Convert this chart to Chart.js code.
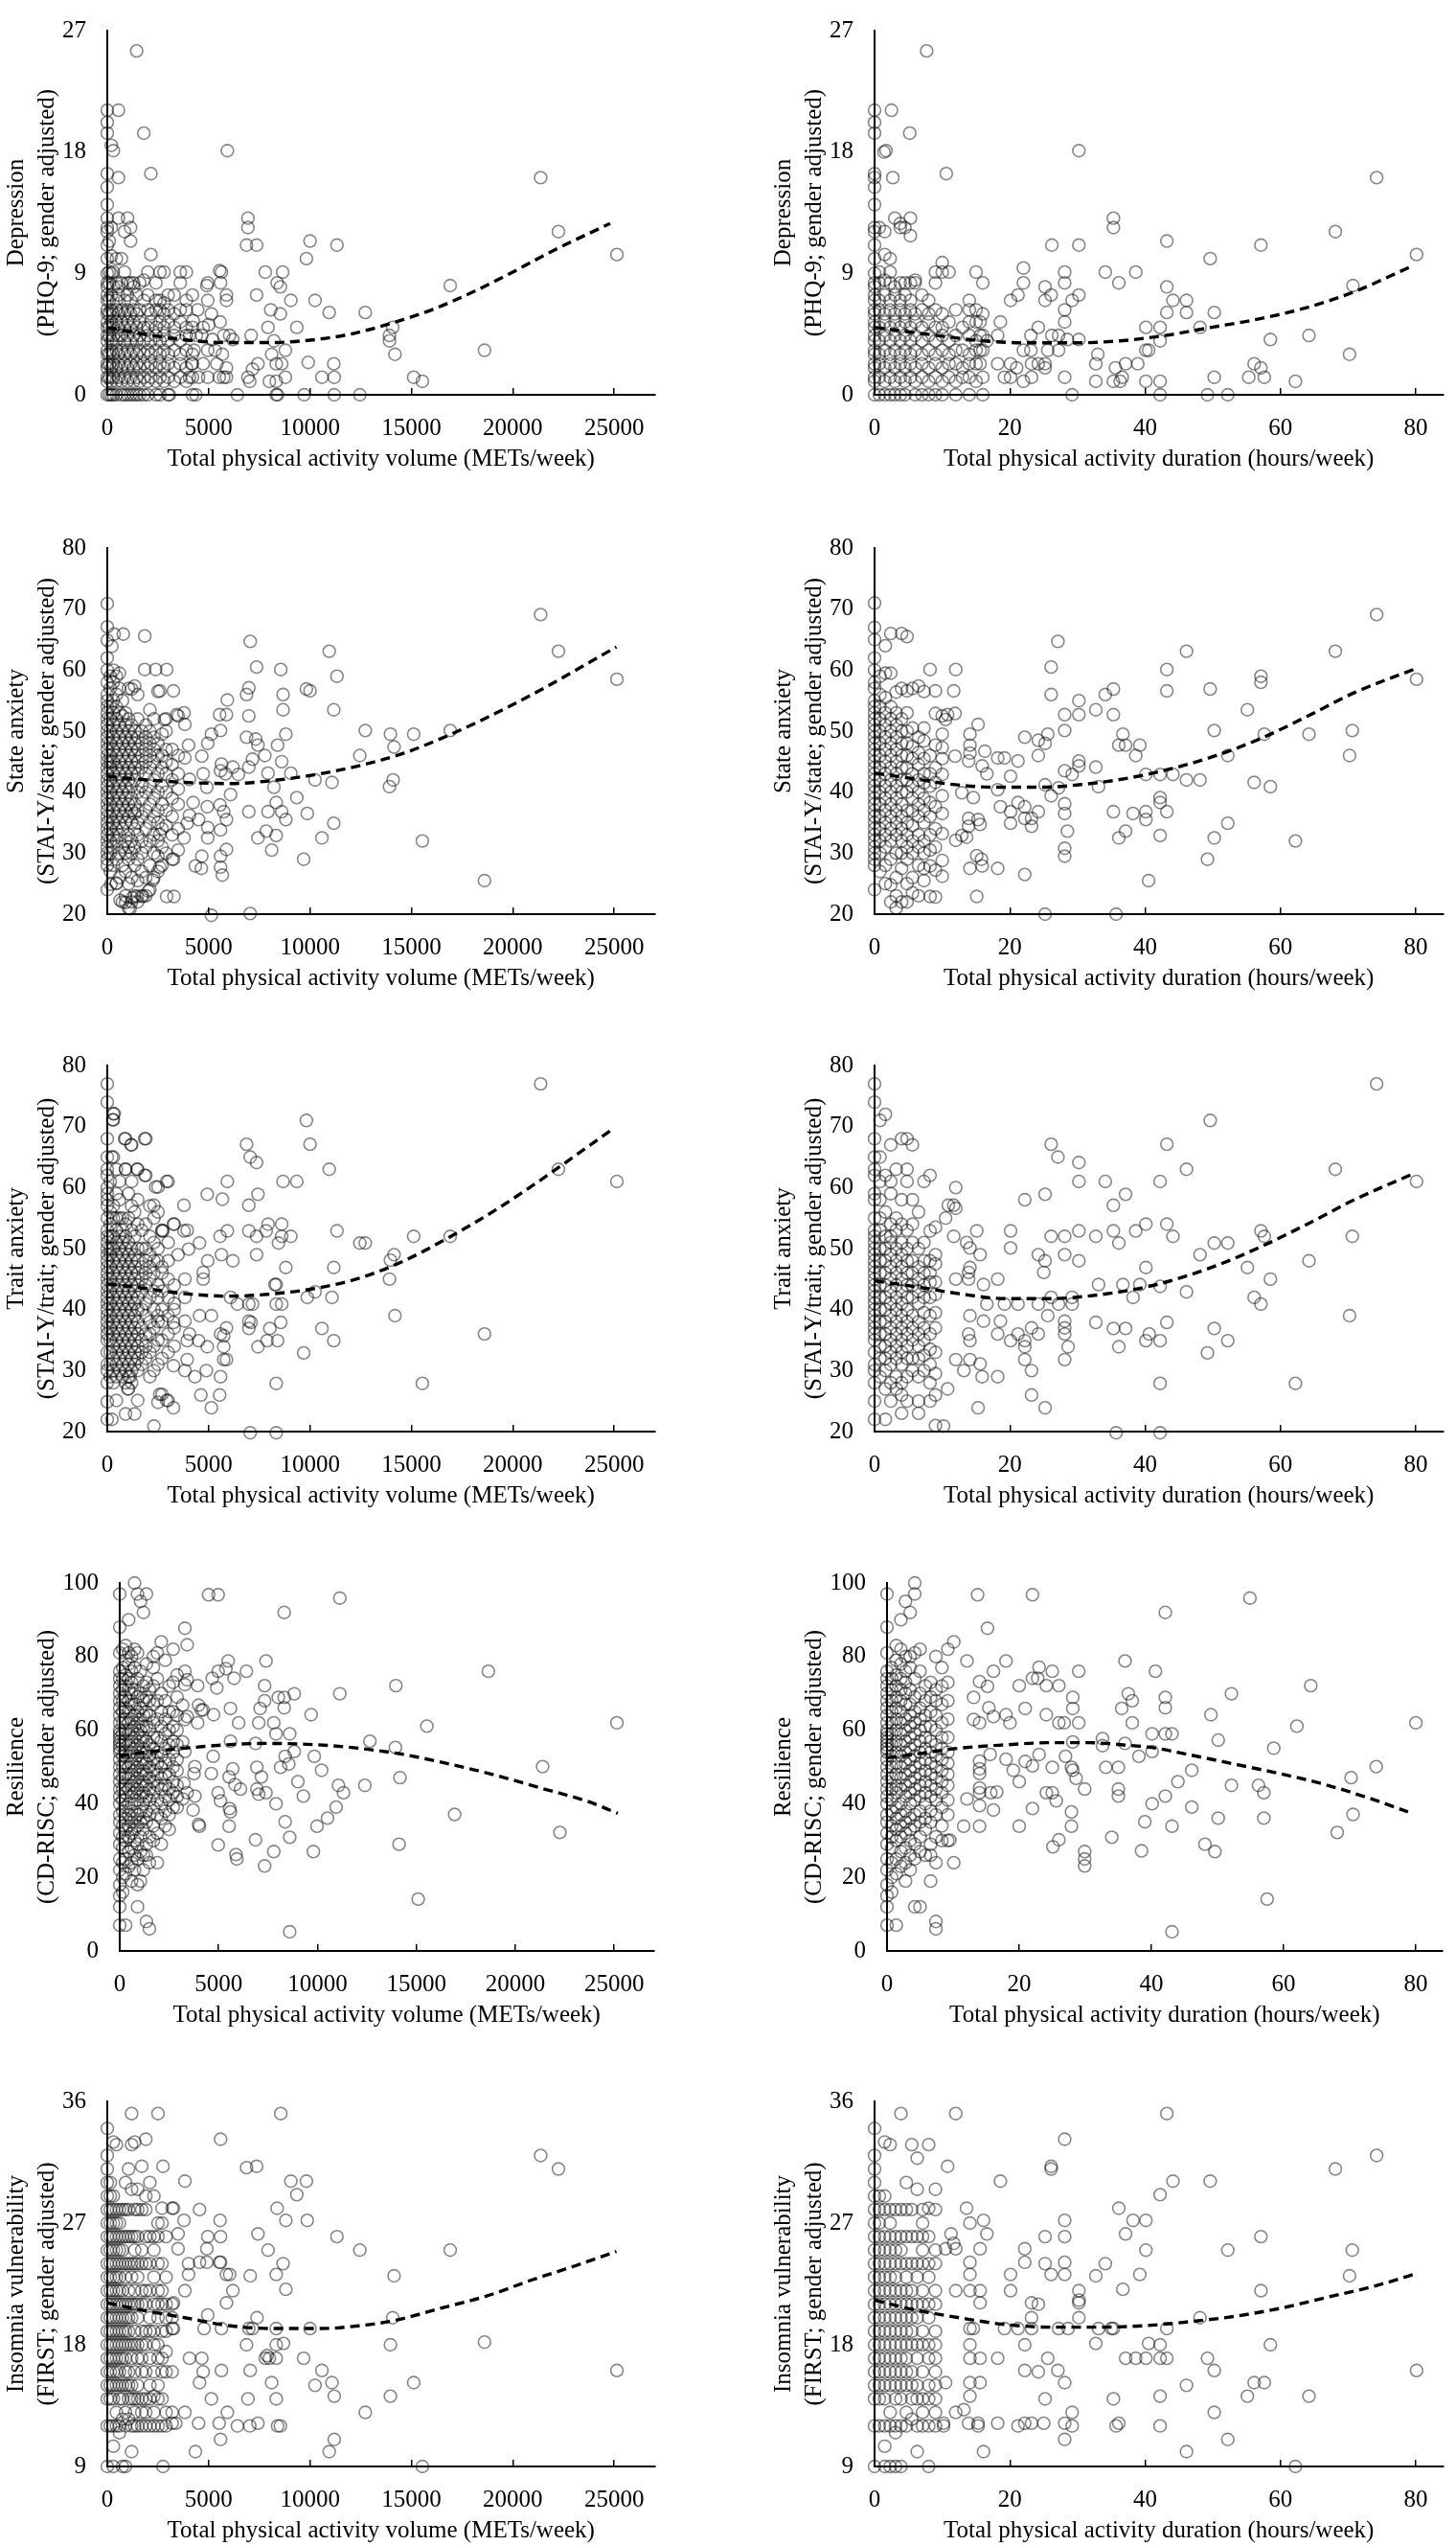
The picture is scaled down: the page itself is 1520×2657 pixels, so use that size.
<!DOCTYPE html>
<html><head><meta charset="utf-8">
<script src="https://cdn.jsdelivr.net/npm/chart.js@4.4.1/dist/chart.umd.min.js"></script>
<style>
html,body{margin:0;padding:0;background:#fff;}
body{width:1520px;height:2657px;overflow:hidden;position:relative;}
canvas{position:absolute;}
</style></head><body>
<script>
// ---- Data: each entry is [x, y1, y2, ...] (one x value, one or more y values) ----
const depressionVolume = [
 [0,0,1,1.3,2,2.3,3,3.3,4,4.4,5,5.4,6,6.3,7,7.4,8,8.3,9,10.1,11.1,12.1,12.4,13.1,14.1,15.4,16.4,19.4,20.2,21.1],
 [100,0,1.3,2.3,3,4.4,5,6,7,8.3,9.1,11.4],[200,0,1,2,3.3,4,5.4,6.3,7.4,9,10.3,12.4,18.5],
 [300,0,1.3,2.3,3,4.4,5,6,8,9.1,18.1],[450,0,1,2,3.3,4,5.4,6.3,7,8.3,10.1],
 [550,1.3,2.3,3,4.4,5,6,7.4,8,13.1,16.1,21.1],[700,0,1,2,3.3,4.4,5.4,6.3,8.3,10.1],
 [850,0,1.3,2.3,3,4,5,6,7,9.1,12.1],[1000,0,1,2,3.3,4.4,5.4,6.3,7.4,8.3,13.1],
 [1150,0,1.3,2.3,3,4,5,6,7,8.3,11.4,12.4],[1300,0,1,2,3.3,4.4,5.4,6.3,8,8.3],
 [1450,0,1.3,2.3,3,4,5,6,7.4,25.5],[1600,0,1,2,3.3,4.4,5.4,6.3,8.3],
 [1800,0,1.3,2.3,3,4,5,7,8.5,19.4],[2000,0,1,2,3.3,4.4,5,6.3,7.4,9.1],
 [2150,1.3,2.3,3,4,5.4,6,10.4,16.4],[2400,0,1,2,3.3,4.4,5,6.3,7,8.3],
 [2600,0,1.3,2.3,3,4,5.4,6.3,7,9.1],[2800,1,2,3.3,4.4,5,6,6.8,9.1],
 [3000,0,1.3,2.3,3,4,5.4,6.3,7.4],[3300,1,2,3.3,4.4,5,6,7.4],
 [3600,1.3,2.3,3,4,5.4,6.3,8.3,9.1],[3900,1,2,3.3,4.4,5,6.3,7,9.1],[4200,0,1.3,2.3,3,5,7.4],
 [5923,18.1],[21374,16.1],[22252,12.1],[25135,10.4],[16914,8.1],[18604,3.3],[6937,13.1,12.4,1.3],
 [6869,11.1],[7365,11.1,7.4],[10000,11.4],[11329,11.1],[9820,10.1],[7793,9.1],[8649,9.1],[8378,8.3],
 [8536,8.0,6.0],[9054,7.0],[10248,7.0],[10946,6.1],[12725,6.1],[8063,6.3],[9347,5.0],[7928,5.0],
 [14077,5.0],[13919,4.4,4.0],[14189,3.0],[15113,1.3],[15541,1.0],[11171,2.3],[9910,2.4],[10586,1.3],
 [11194,1.3,0],[12455,0],[9707,0],[8333,0,2.3,1.0],[8400,0],[6419,0],[4369,0],[3063,0],[8784,3.3,1.3],
 [8108,3.0],[8220,4.0],[8603,2.3],[7995,1.0],[7027,1.0],[7162,1.9],[7432,2.3],[7095,4.4],[6036,4.4],
 [6194,4.1],[5563,5.4],[5586,8.3],[5631,9.1],[5541,9.2],[5878,7.4,7.0,1.3,2.0],[4955,8.3,7.0,3.3,1.3],
 [4910,8.1],[4730,5.0,2.3],[4662,4.4],[4054,1.3,4.4],[4505,1.3],[5519,1.3],[5743,1.3,4.4],[4167,2.3],
 [5405,2.3],[4280,3.3],[5315,3.3],[5676,3.0],[4395,4.4],[5180,4.1],[4235,5.5],[5000,5.2],[5135,6.0],[4460,6.3]
];
const depressionDuration = [
 [0,0,1,1.3,2,2.3,3,3.3,4,4.4,5,5.4,6,6.3,7,7.4,8,8.3,9,10.1,11.1,12.1,12.4,14.1,15.4,16.1,16.4,19.4,20.2,21.1],
 [0.7,0,1.3,2.3,3,4,5,6.3,7,8.3,9.1,12.4],[1.5,0,1,2,3.3,4.4,5.4,6,7.4,8.5,10.4,12.1],
 [2.3,0,1.3,2.3,3,4,5,6.3,7,8.3,9.1,10.1],[3,0,1,2,3.3,4.4,5.4,6,7.4,8,13.1],
 [3.8,0,1.3,2.3,3,4,5,6.3,7,8.3,12.4,12.7],[4.5,0,1,2,3.3,4.4,5.4,6,7.4,8.3,12.4],
 [5.3,1.3,2.3,3,4,5,6.3,7,8.3,11.8,13.1],[6,0,1,2,3.3,4.4,5.4,6,8.3,8.5],[7,0,1.3,2.3,3,4,5,6.3,7.4],
 [8,0,1,2,3.3,4.4,5.4,6,7],[9,0,1.3,2.3,3,4,5,6.3,8.3,9.1],[10,0,1,2,3.3,4.4,5,6,9.1,9.8],
 [11,1.3,2.3,3,4,5.4,9.1],[12,0,1,2.3,3.3,4.4,6.3],[13,1.3,2,3.3,5],[14,0,1.3,2.3,3,4.4,5.4,6.3,7.0],
 [15,1,2.3,3.3,4,5.4,6.3,9.1],[16,0,1.3,3.3,4.4,6.0,8.3],
 [7.7,25.5],[2.5,21.1],[5.2,19.4],[1.7,18.1],[1.4,18.0],[30.2,18.1,11.1,7.4,4.1],[10.6,16.4],[2.7,16.1],
 [74.2,16.1],[68.1,12.1],[80.1,10.4],[70.7,8.1],[70.2,3.0],[35.3,13.1,12.4,1.0],[26.2,11.1,4.4],
 [43.2,11.4,8.0,6.1],[57.1,11.1,2.0],[49.6,10.1],[34.1,9.1],[38.6,9.1],[28.1,9.1,8.3,6.3,5.4,1.3],
 [22.0,9.4,8.3,3.3,1.0],[36.1,8.3],[25.2,8.0,7.0,2.3,2.0],[26.1,7.4],[29.2,7.0,0],[21.2,7.4],[20.1,7.0,1.3,2.3],
 [44.1,7.0],[46.1,7.0,6.1],[50.2,6.1,1.3],[48.1,5.0],[40.1,5.0,1.0,3.3],[42.2,5.0,4.0,1.0,0],[58.5,4.1],
 [64.2,4.4],[55.3,1.3],[57.6,1.3],[56.1,2.3],[62.2,1.0],[40.5,3.3],[49.2,0],[52.2,0],[33.0,3.0],
 [32.7,2.3,1.0],[37.1,2.3],[38.9,2.3],[35.6,2.0],[36.6,1.3],[36.3,1.0],[27.2,4.4,3.3],[28.5,4.1],
 [24.2,5.0,2.3],[23.1,4.4,3.3],[25.6,3.3],[23.2,2.3,1.3],[19.2,1.3],[21.0,2.0],[18.2,2.3,4.4],
 [18.6,5.4],[16.6,4.0],[15.6,4.4,3.3,2.3,5.4]
];
const stateVolume = [
 [0,24,28,29,30,31,32,33,34,35,36,37,38,39,40,41,42,43,44,45,46,47,48,49,50,51,52,53,54,55,56,58,60,62,64.9,67.1,70.9],
 [150,27,30,32,34,36,38,40,42,44,45,46,48,50,52,54,57,59],[300,28,31,33,35,37,39,41,43,45,47,49,51,53,55,58,60],
 [450,25,29,32,34,36,38,40,42,44,46,48,50,52,54,56,59],[600,26,30,33,35,37,39,41,43,45,47,49,51,53,57,59.5],
 [750,22,28,31,34,36,38,40,42,44,46,48,50,52.5,55],[900,23,27,30,32,35,37,39,41,43,45,47,49,51,53],
 [1050,21,25,29,31,33,36,38,40,42,44,46,48,50,52,57],[1200,22,26,30,32,35,37,39,41,43,45,47,49,51,56.9],
 [1350,23,28,31,34,36.5,38,42,44,46,48,50,57.4],[1500,22,25.5,29,33,35,37,40,43,45,47,49,52,56],
 [1700,23,27,30,32,36,39,41,44,46,48,50],[1900,23,26,31,34,37,40,43,45,47,49,51],
 [2100,24,28,32,35,38,41,44,46,48,50,53.5],[2300,26,30,33,36,39,42,45,47,49,52],
 [2500,27,29.5,32,35,37,40,43,46,48,56.5],[2700,28,31,34,38,41,44,46,49.5],[2900,30,34.5,37,40,43,45,47,50,52],
 [3200,29,33,36,39,42,44.5,47],[3500,30.5,34,38,40.5,43,46,52.5],
 [21374,69.1],[22252,63.1],[25135,58.5],[18604,25.5],[16914,50.1],[15541,32.0],[15113,49.5],[13964,49.5],
 [14144,47.4],[13919,40.9],[14099,42.0],[12725,50.1],[12455,46.0],[10946,63.1],[11329,59.0],[11171,53.5,34.9],
 [11081,41.6],[10586,32.5],[10248,42.0],[9820,56.9],[10000,56.6],[9865,36.5],[9685,29.0],[9347,39.1],
 [9054,43.1],[8807,49.5,35.5],[8671,56.0,53.5],[8558,60.1],[8603,45.0,36.8],[8400,47.7],[8333,38.3,32.9],
 [8108,30.5],[8220,40.8],[7928,36.8,43.1],[7838,33.6],[7770,46.0],[7432,32.5,47.7],[7365,60.5],[7050,64.7,20.1],
 [6982,57.1,52.5,44.1,36.8],[6869,56.0,49.0],[7320,48.7],[7162,45.4],[5135,19.8,49.5],[6464,42.9],[6080,39.6],
 [6194,44.1],[5923,55.1],[5878,52.7,35.5,30.6],[5541,52.7],[5586,50.1,43.5,29.5,27.7,33.8],[5631,44.6],[5833,43.0],
 [5676,26.4],[5743,36.8],[5563,37.9],[4955,48.0,34.2,32.5],[4910,40.8],[4730,43.0],[4662,45.9,29.5],[4932,37.6],
 [4640,27.5],[4347,27.9],[4505,35.5],[4234,38.3],[4054,42.1,36.2],[4009,47.7],[3829,51.1,45.6],[3784,53.0,32.5],
 [3941,34.9],[3265,29.0,56.6],[3423,52.7],[3288,22.9],[2928,22.9,60.1],[2387,60.1],[1847,60.1,65.6],[2590,56.6,33.1,27.7],
 [2815,51.9],[2252,25.6],[2027,23.8],[1757,22.9],[1464,22.9],[1239,22.7],[901,21.9],[1126,20.9],[631,22.3],
 [788,65.9],[338,65.9],[225,63.9],[180,24.9],[450,25.1]
];
const stateDuration = [
 [0,24,28,29,30,31,32,33,34,35,36,37,38,39,40,41,42,43,44,45,46,47,48,49,50,51,52,53,54,55,57,58,60,62,65,67,71],
 [0.8,27,30,32,34,36,38,40,42,44,46,48,50,52,54,56,59],[1.6,25,28,31,33,35,37,39,41,43,45,47,49,51,53,55.5,59.5,64],
 [2.4,22,24.8,29,32,34,36,38,40,42,44,46,48,50,52,54,59.5,66],[3.2,21,23,26,30,33,35,37,39,41,43,45,47,49,51,53,56.4],
 [4,22,27.5,30,32,34,36,38,40,42,44,46,48,50,52,57,66],[4.8,22,25,29,31,33,35,37,40,42,44,46,48,50,53,56.6,65.5],
 [5.6,23.5,26,30,32,34.5,36.9,39,41,43,45.5,47.5,50.5,57],[6.5,23,28,31,33,36,38,40,42,44.5,46.5,49,57.4],
 [7.3,25.5,27.5,30,32,35,37,39,41.5,43,45.5,48.4,50.5,56.5],[8.2,22.9,27.9,30.5,33,36,38.3,41,43,46,60.1],
 [9,22.8,27.2,31,34,37.6,41.6,44,47.7,52.9,56.6],[10,26.2,28.8,33.2,36.5,39.4,42.9,45.5,47.3,49.5,52.5],
 [74.2,69.1],[68.1,63.1],[80.1,58.5],[70.6,50.1],[70.2,46.0],[64.2,49.5],[62.2,32.0],[57.1,59.0,58.0],[57.6,49.5],
 [58.5,40.9],[56.1,41.6],[55.1,53.5],[52.2,46.0,34.9],[50.2,32.5,50.1],[49.2,29.0],[49.6,56.9],[48.1,42.0],
 [46.1,42.0,63.1],[44.1,42.9],[43.2,60.1,56.6,36.8],[42.2,42.9,39.1,38.3,32.9],[40.5,25.5],[40.1,42.9,36.8,35.5],
 [39.2,47.7],[38.6,46.0],[38.2,36.5],[37.1,47.7,33.6],[36.7,49.5],[36.1,47.7,32.5],[35.3,56.9,52.7,36.8],[35.7,20.0],
 [34.1,56.0],[32.7,53.5,44.1],[33.1,40.9],[30.2,55.0,52.7,45.1,44.3],[29.2,42.9],[28.5,33.6],
 [28.1,52.7,50.1,43.5,38.1,36.5,30.8,29.5],[27.2,40.7],[27.1,64.7],[26.1,60.5,56.0,39.4],[25.6,49.5],
 [25.2,48.0,41.2,20.0],[24.2,48.5,46.0,36.8],[23.2,35.7,34.4],[22.2,26.5,49.0,37.6,35.7],[21.2,45.1,38.3],
 [20.1,42.6,36.8,34.9],[19.2,45.6],[18.6,37.6],[18.2,45.6,40.4,27.5],[16.6,43.0],[16.3,46.7],[15.9,44.3,27.9],
 [15.3,51.1,35.5],[15.8,29],[15.1,29.6,22.9],[15.6,34.7],[14.6,39.1],[14.1,47.7,49.5,27.5],[14.1,46.4],[13.9,45.1,35.7,34.4],
 [12.9,39.9,32.9],[13.6,32.6],[12.0,32.1,60.1],[11.7,56.6],[11.9,52.9,45.9],[10.8,52.7],[10.5,51.9]
];
const traitVolume = [
 [0,28,30,31,33,35,36,37,38,39,40,41,42,43,44,45,46,47,48,49,50,51,52,53,55,57,58,59,60,62,63,65,68,74,77,24.9,22],
 [150,29,31,33,35,37,39,41,43,45,47,49,50,52,54,56,61],[300,28,30,32,34,36,38,40,42,44,46,48,50,52,55,57,72.1,71.1,65],
 [450,29,31,33,35,37,39,41,43,45,47,49,51,53,55,59,63,25.1],[600,30,32,34,36,38,40,42,44,46,48,50,52,55,58,61],
 [750,29,31,33,35,37,39,41,43,45,47,49,51,53,55],[900,28,30,32,34,36,38,40,42,44,46,48,50,52,54,63,68,22.9],
 [1050,27,29,31,33,35,37,39,41,43,45,47,49,51,55,59],[1200,28,30,32,34,36,38,40,42,44,46,48,50,53,57,61,67],
 [1350,31,33,35,37,39,41,43,45,47,49,52,56,22.9],[1500,30,32,34,36,38,40,42,44,46,48,50,54,58,63,25.1],
 [1700,31,33,35,37,40,43,45,47,50,53],[1900,32,34,36,39,41,44,46,48,50,54,68,62],
 [2100,29,33,36,38,42,45,47,49,52,57],[2300,30,34,37,40,43,46,48,51,55,20.9,57.1],
 [2500,31,35,38,39,42,44,48,50,56,60.1,24.8],[2700,32,35,38,40,43,46,47,53,52.9,26.1],[3000,33,36,39,42,45,48,51,61,25.1],
 [3300,34,37,40,41,44,54],
 [21374,77.0],[22252,63.0],[25135,61.0],[18604,36.0],[16914,52.0],[15541,27.9],[15113,52.0],[14144,49.0],
 [13964,48.1],[13919,45.0],[14189,39.0],[12455,50.9],[12725,50.9],[11329,52.9],[11171,46.9,34.9],[11081,42.0],
 [10946,63.0],[10586,36.9],[10248,42.9],[9865,42.0],[10000,67.1],[9820,71.0],[9685,32.9],[9347,61.0],[9054,52.0],
 [8807,46.9],[8671,61.0],[8603,54.0,52.0,40.9],[8446,50.9],[8558,37.9],[8333,44.1,40.9,27.9,19.8],[8266,44.1],
 [8400,34.9],[8018,36.9],[7883,34.9],[7838,52.9],[7928,54.0],[7432,58.9,33.9],[7365,64.1,52.0,49.0],[7050,65.0,19.8],
 [6869,67.1],[6982,57.1,52.9,40.9,38.1,36.9],[7162,40.9],[7095,37.9],[6419,40.9],[6194,48.0],[6080,42.0],
 [5923,61.0,52.9],[5676,58.1],[5631,49.0],[5563,52.0],[5586,36.0,29.0],[5743,35.7,33.9,31.8],[5878,37.0,31.8],
 [5541,26.0],[5135,23.9,39.0],[4955,48.0],[4932,58.9,33.9],[4887,30.0],[4730,46.1,45.0],[4550,39.0,50.9],
 [4617,26.0],[4324,29.0],[4505,34.9],[4054,36.0],[3941,34.9,31.8,53.0],[4009,49.9],[3784,52.9,57.1],
 [3829,45.0,42.0,38.1,30.0],[3491,49.0],[3265,54.0,37.9,30.8,23.9],[2928,61.0,25.1],[2748,52.9],[2590,26.1],
 [2387,60.1],[1847,68.0,62.0],[1171,67.0],[856,68.0],[1464,63.0],[901,63.0],[338,72.1],[270,71.1],[225,65.0,22.0],
 [1126,29],[1013,27]
];
const traitDuration = [
 [0,22,25,28,30,31,33,35,36,37,38,39,40,41,42,43,44,45,46,47,48,49,50,51,52,53,55,58,59,62,63,65,68,74,77],
 [0.8,29,32,34,36,38,40,42,44,46,48,50,53,55,58,61,65,71],[1.6,22,27,30,32,34,36,38,40,42,44,46,48,50,52,56,62,72],
 [2.4,25,28,31,33,35,37,39,41,43,45,47,49,51,52,54,59,61,67],[3.2,27,29,32,34,36,38,40,42,44,46,48,50,53,55,63],
 [4,23,26,28,31,33,35,37,39,41,43,45,47,49,51,54,58,68],[4.8,25,29,32,34,36,38,40,42,44,46,48,50,53,61,63,68],
 [5.6,30,32,35,37,39,42,44,46,48,51,54,58,67],[6.5,23,25,29,32,34,36,38,41,43,45,47,50,56],
 [7.3,30,32.5,35,37,39.5,42,44,46,48,51,61],[8.2,25,28,31,33.5,36,39,42,44.5,46,48,52.9,62],
 [9,21,26,29.5,33,37,39.5,42.5,44.5,47.5,49,53.5],
 [74.2,77.0],[68.1,63.0],[80.1,61.0],[70.6,52.0],[70.2,39.0],[64.2,48.0],[62.2,27.9],[57.1,52.9,40.9],[57.6,52.0],
 [58.5,45.0],[56.1,42.0],[55.1,46.9],[52.2,50.9,34.9],[50.2,36.9,50.9],[49.2,32.9],[49.6,71.0],[48.1,49.0],
 [46.1,42.9,63.0],[44.1,52.0],[43.2,67.1,54.0,37.9],[42.2,61.0,43.8,34.9,27.9,19.8],[40.1,54.0,46.9,34.9],[40.6,36.0],
 [39.2,44.1],[38.6,52.9],[38.2,42.0],[37.1,58.9,36.9],[36.7,44.1],[36.1,50.9,33.9],[35.7,19.8],[35.3,57.1,52.9,36.9],
 [34.1,61.0],[32.7,52.0,37.9],[33.1,44.1],[30.2,64.1,61.0,52.9,48.0],[29.2,42.0,40.9],[28.6,33.9],
 [28.1,52.0,49.0,38.1,37.0,36.0,31.8],[27.2,40.9],[27.1,65.0],[26.1,67.1,52.0,42.0],[25.6,39.0],[25.2,58.9,48.0,23.9],
 [25.0,46.1],[24.2,49.0,40.9,36.0],[23.2,37.0,30.0,26.0],[22.2,33.9,31.8,58.0,34.9],[21.2,40.9,36.0],
 [20.1,52.9,50.1,34.9],[19.2,40.9],[18.6,38.1],[18.2,45.0,36.0,29.0],[16.6,40.9],[16.1,38.1,44.1],[15.1,52.9],
 [15.6,49.0,31.1],[15.3,23.9],[15.9,29.0],[14.1,50.1,46.9,39.0,34.9,31.8],[13.9,46.1,45.0,36],[13.2,30.0],[13.6,51.0],
 [12.0,60.0,56.6,45,31.8],[11.7,57.1,52],[10.9,57.1],[10.5,55.0],[10.8,27.0],[10.2,20.9]
];
const resilienceVolume = [
 [0,7,12,15,18,22,25,29,32,35,37,40,42,44,46,48,50,52,54,55,56,57,58,59,60,62,64,66,68,70,72,74,76,81,88,97],
 [150,16,20,24,28,31,34,38,41,44,47,50,53,56,59,62,65,68,71,74,77,82],
 [300,7,21,25,30,33,36,39,43,45,48,51,54,57,60,63,66,69,72,75,79,83],
 [450,23,27,31,34,37,40,44,47,50,53,56,59,62,65,68,71,74,78,81,90],
 [600,19,24,28,32,35,38,42,45,48,51,54,57,60,63,67,70,73,76,80],
 [750,22,26,30,33,36,40,43,46,49,52,55,58,61,64,67,71,77,82,100],
 [900,12,18,25,29,34,37,41,44,47,50,53,56,59,62,65,69,74,81,97],
 [1050,19,27,31,35,38,42,45,48,51,54,57,60,63,66,70,76,95],
 [1200,22,26,33,36,40,43,46,49,52,55,58,61,64,68,72,92],
 [1350,8,26,29,35,38,42,45,48,51,54,57,61,65,69,73,78,97],
 [1500,6,24,31,37,41,44,47,50,53,56,60,64,68,71],[1700,30,34,39,43,46,49,52,55,58,62,67,72,77,80],
 [1900,24,32,37,41,45,48,51,54,58,63,68,74,81],[2100,29,36,40,44,47,50,53,57,61,65,70,84],
 [2300,34,38,42,45,48,51,55,59,63,68,79],[2500,33,37,41,44,48,52,56,60,65,72],
 [2700,39,43,46,50,54,57,61,65,73,82],[2900,39,42,45,49,52,56,60,64,69,75],
 [25137,62.0],[21381,50.1],[22257,32.2],[18639,76.0],[16934,37.1],[15529,61.1],[15091,14.1],[13962,72.1],
 [14124,29.0],[14170,47.1],[13939,55.3],[12649,57.0],[12395,45.0],[11128,95.9,69.9],[11059,45.0],[11313,43.0],
 [10944,39.1],[10506,36.1],[10207,49.1],[9976,33.9],[9838,52.9],[9792,27.0],[9677,64.2],[9285,42.1],[9009,46.0],
 [8824,69.9,54.2],[8594,59.0,30.9,5.2],[8548,50.8],[8364,52.9,35.1],[8317,92.0,68.9,66.1],[8133,49.9],
 [7903,59.0,40.0],[7788,27.0,62.0],[8018,68.9],[7396,78.8,43.0],[7327,72.1,68.0,23.1],[7166,47.3],[7097,65.9],
 [7027,62.0,42.6],[6935,49.9,44.0],[6866,30.2,56.4],[6405,76.0],[6106,44.0],[6013,62.0],[5875,26.2],[5921,25.0],
 [5783,74.1],[5829,45.2],[5599,57,65.9,37.8],[5530,47.3,33.9],[5483,78.8],[5368,76.7],[5553,38.7],[5714,49.5],
 [4977,76.0,28.8,43.0,96.8],[4908,71.5],[5092,40.8],[4677,74.1],[4723,52.9],[4631,48.2],[4746,64.2],[4493,96.8],
 [4124,65.5],[4216,65.5],[3986,66.8,34.4],[4032,33.9],[3940,72.1,62.0],[3802,50.1,42.1],[3756,48.2],[3709,38.3],
 [3410,63.7,83.2,73.7,43.0],[3295,62.9,87.7,76.0,72.4,54.2],[3180,66.8,56.8,41.3],[3249,45.6]
];
const resilienceDuration = [
 [0,7,12,15,18,22,25,29,32,35,37,40,42,44,46,48,50,52,54,55,56,57,58,59,60,62,64,66,68,70,72,74,76,81,88,97],
 [0.7,16,20,24,28,31,34,38,41,44,47,50,53,56,59,62,65,68,71,74,77],
 [1.4,7,21,25,30,33,36,39,43,45,48,51,54,57,60,63,66,69,72,75,79,83],
 [2.1,23,27,31,34,37,40,44,47,50,53,56,59,62,65,68,71,74,78,82,90],
 [2.8,19,24,28,32,35,38,42,45,48,51,54,57,60,63,67,70,73,76,80,95],
 [3.5,22,26,30,33,36,40,43,46,49,52,55,58,61,64,67,71,77,80,92],
 [4.2,12,25,29,34,37,41,44,47,50,53,56,59,62,65,69,74,81,97,100],
 [5,12,27,31,35,38,42,45,48,51,54,57,60,63,66,70,76,82],[5.8,26,33,36,40,43,46,49,52,55,58,61,64,68,72],
 [6.6,19,26,29,35,38,42,45,48,51,54,57,61,65,69,73],[7.4,6,8,24,31,37,41,44,47,50,53,56,60,64,68,71,80],
 [8.3,30,34,39,43,46,49,52,55,58,62,67,72,77],[9.2,30,37,41,45,48,51,54,58,63,68,73,82],
 [80.0,62.0],[74.0,50.1],[68.1,32.2],[70.2,47.1],[70.5,37.1],[64.1,72.1],[62.0,61.1],[58.5,55.1],[57.5,14.1],
 [57.0,43.0,36.1],[56.2,45.0],[54.9,95.9],[52.1,69.9,45.0],[50.1,57.3,36.1],[49.6,27.0],[49.0,64.2],[48.1,29.0],
 [46.1,49.1,39.1],[44.0,46.0],[43.1,59.0,33.9,5.2],[42.1,92.0,68.9,66.1,59.0,42.1],[40.6,76.0],[40.1,59.0,54.2,40.0],
 [39.0,35.1],[38.5,27.2],[38.1,52.9],[37.1,62.0,68.0],[36.5,69.9],[36.0,78.8,56.4],[35.5,65.9],[35.0,49.9,44.0,42.1],
 [34.0,30.9],[33.1,49.9],[32.6,57.7,55.8],[29.9,27,25,23.1,44.0],[29.0,62.0,76.0],[28.6,46.9],[28.1,65.9,68.9,56.8,49.1],
 [27.9,49.9,37.8,33.9],[27.0,52.9],[26.8,62.0],[26.0,62.0,72.1,30.2],[25.6,40.8],[25.1,28.3],[25.0,43.0,49.9,76.0],
 [24.1,43.0,64.2,72.1],[23.0,53.4,77.1],[22.8,74.1],[22.0,74.1,96.8,50.3,38.7],[20.9,65.9,51.5],[20.0,33.9,46.0,72.1],
 [19.1,49.1],[18.6,62.0],[18.0,64.2,52.1,78.8],[16.6,43.2],[16.1,76.0,38.3,63.7],[15.7,43.0],[15.6,53.4],[15.4,66.1],
 [15.2,71.9,87.7],[13.7,96.8],[14.0,73.2,62.0,51.6,49.5,48.2,44.3,43.0,39.5,33.9],[13.1,68.9,62.9],[12.1,78.8,41.3],
 [11.6,33.9],[10.1,84.0,24.0],[9.5,30.1]
];
const insomniaVolume = [
 [0,9,12,14,15,16,17,18,19,20,21,22,23,24,25,26,27,28,29,30,31,32,34],
 [150,12,14,15,16,17,18,19,20,21,22,23,24,25,26,27,28,29,30],
 [300,9,10.5,12,14,15,16,17,18,19,20,21,22,23,24,25,26,27,28,29,33],
 [450,12,13,15,16,17,18,19,20,21,22,23,24,25,26,27,28,32.8],
 [600,11.5,12,14,15,16,17,18,19,20,21,22,23,24,25,26,27,28],
 [750,9,12.5,14,15,17,18,19,20,21,22,24,25,26,28],[900,9,12,13,15,16,17,18,19,20,21,23,24,26,28,30],
 [1050,12.5,14,15,16,18,19,20,21,22,24,26,28,31],[1200,10.1,12,14,15,17,18,20,21,23,24,26,29.5,32.8,35.1],
 [1350,12,13,14,16,18,19,21,22,24,25,26,28,33],[1500,12,14,15,17,18,20,21,23,24,26,28,29.5],
 [1700,12,13,14,16,17,18,19,21,22,24,25,28,31.2],[1900,12,13,14,16,18,19,21,22,24,26,28,29,33.2],
 [2100,12,14,15,17,19,20,22,24,26,30],[2300,12,13,14.2,16,18,19,21,23,25,26,29],
 [2500,12,14,15,17,18,20,21,22,24,26,27,35.1],[2700,12,14,16,17,19,21,22,24,27,28.1],
 [2900,12,13,16,17.5,19,20,21,23,26],[3200,12.2,13,16,19.2,20,21,28.1],
 [21374,32.0],[22252,31.0],[25135,16.1],[18604,18.2],[16914,25.0],[15541,9.0],[15113,15.2],[14144,23.1],[14077,20.0],
 [13964,18.0,14.2],[12725,13.0],[12455,25.0],[11329,26.0],[11194,14.2,11.0],[10946,10.1],[11081,15.2],[10586,16.1],
 [10248,15.0],[10000,19.2],[9865,27.2],[9820,30.1],[9685,17.0],[9347,29.1],[9054,30.1],[8807,27.2,22.1],[8671,24.0],
 [8693,18.1],[8558,35.1],[8536,12.0],[8378,28.1],[8333,23.2,19.2,18.0,17.0,14.0],[8400,12.0],[8108,15.2],
 [7995,17],[7793,17],[7883,17.2],[7928,25.0],[7387,20.0],[7365,31.2],[7432,26.2,12.2],[7162,19.2],[6982,19.2],
 [7050,23.1,16.1],[6937,14.0],[7027,12.0],[6869,31.1,18.0],[6419,12.0],[6194,22.0],[5878,23.2,21.1],[6036,23.2],
 [5923,13.0],[5631,19.2,16.1],[5586,24.1,26.0,33.2,11.0],[5541,24.1],[5563,27.2],[5519,12.2],[5135,14.0],
 [4955,20.2,26.0],[4910,25.1,24.1],[4775,19.2],[4730,16.0],[4662,17.0],[4550,24.1,28.0,15.2],[4505,12.2],[4347,10.1],
 [4054,17.0],[4009,24,23.2],[3829,22.0,30.1,13.0],[3784,27.2],[3491,26.2,25.1],[3265,28.1,21.1,19.2],[3378,12.2],
 [2748,31.2,9.0]
];
const insomniaDuration = [
 [0,9,12,14,15,16,17,18,19,20,21,22,23,24,25,26,27,28,29,30,31,32,34],
 [0.7,12,14,15,16,17,18,19,20,21,22,23,24,25,26,27,28,29],
 [1.5,9,10.5,12,14,15,16,17,18,19,20,21,22,23,24,25,26,28,29,33],
 [2.3,9,12,13,15,16,17,18,19,20,21,22,23,24,25,26,27,28,32.8],
 [3.1,9,11.5,12,14,15,16,17,18,19,20,21,22,23,24,25,26,28],
 [3.9,9,12,14,15,16,17,18,19,20,21,22,24,25,26,28,35.1],
 [4.7,12,13,15,16,17,18,19,20,21,22,23,24,26,28,30],[5.5,12.5,14,15,16,18,19,20,21,22,24,26,28,32.8],
 [6.3,10.1,12,14,15,17,18,20,21,23,24,26,29.5,31.8],[7.1,12,13,14,16,18,19,21,22,24,25,26,27,28],
 [8,9,12,14,15,17,18,20,21,23,24,26,28.1,32.8],[9,12,13,14,15,16,17,18,19,21,22,24,25,28,29.5],
 [74.2,32.0],[68.1,31.0],[80.1,16.1],[70.6,25.0],[70.2,23.1],[64.2,14.2],[62.2,9.0],[57.1,26.0,22.0],[58.5,18.0],
 [57.6,15.2],[56.1,15.2],[55.1,14.2],[52.2,25.0,11.0],[50.2,16.1,13.0],[49.2,17.0],[49.6,30.1],[48.1,20.0],
 [46.1,15.0,10.1],[44.1,30.1],[43.2,35.1,19.2,17.0],[42.2,29.1,18.0,17.0,14.2,12.0],[40.5,18.1],[40.1,27.2,25.0,17.0],
 [39.2,23.2],[38.6,17.0],[38.2,27.2],[37.1,17.0,26.2],[36.7,22.1],[36.1,28.1,12.2],[35.7,12.0],[35.3,19.2,14.0],[35.0,19.2],
 [34.1,24.0],[32.7,23.1,18.1],[33.1,19.2],[30.2,22.0,21.1,20.0,21.3],[29.2,13.0,12.0],[28.6,19.2],
 [28.1,33.2,27.2,26,24.1,23.2,15.2,12.2,11.0],[27.2,19.2],[27.1,16.1],[26.1,31.2,31.0,23.2],[25.6,17.0],
 [25.2,26.0,24.0,14.0],[25.0,12.2],[24.2,21.0,16.0],[23.2,20.0,19.2,21.1,12.2],[22.2,25.1,24.1,18.0,16.1,12.2],
 [21.2,19.2,12.0],[20.1,23.2,22.0],[19.2,19.2],[18.6,30.1],[18.2,17.0,12.2],[16.6,26.2],[16.1,27.2,10.1],
 [15.6,25.1,22,21.1,17,15.2],[15.3,12.0,12.2],[14.6,19.2],[14.1,24.1,23.2,22,19.2,18,17,15.2,14.2,27.0],[13.9,12.2],
 [13.6,28.1],[13.2,13.2],[12.0,35.1,25.1,22.0,13.0],[11.7,25.5],[11.3,26.2],[10.8,31.2],[10.5,25.1,15.2],[10.2,12.2,12.0]
];

// ---- Fitted (dashed) curves as [x, y] ----
const depressionVolumeFit = [[0,5.0],[2000,4.45],[4000,4.05],[6000,3.87],[8000,3.87],[10000,4.05],[12000,4.5],[14000,5.3],[16000,6.3],[18000,7.6],[20000,9.1],[22000,10.7],[24800,12.7]];
const depressionDurationFit = [[0,5.0],[9.2,4.4],[16,4.0],[22.7,3.85],[29.5,3.85],[36.3,4.0],[43,4.4],[49.8,5.0],[56.6,5.6],[63.4,6.4],[70.2,7.5],[79.7,9.6]];
const stateVolumeFit = [[0,42.6],[1576,42.1],[3830,41.6],[6080,41.4],[7883,41.8],[10135,42.8],[12385,44.3],[14640,46.4],[16890,49.4],[19140,52.9],[21400,56.8],[25110,63.8]];
const stateDurationFit = [[0,43.1],[5.8,42.2],[11.2,41.3],[18,40.8],[24.7,40.8],[30.2,41.2],[37,42.2],[43.7,43.8],[50.5,46.0],[57.3,48.9],[64.1,52.5],[70.9,56.3],[80.1,60.3]];
const traitVolumeFit = [[0,44.2],[1576,43.6],[3830,42.6],[6080,42.2],[7883,42.5],[10135,43.4],[12385,45.1],[14640,48.0],[16890,51.9],[19140,56.3],[21400,61.3],[24890,69.5]];
const traitDurationFit = [[0,44.7],[5.8,43.8],[12.5,42.6],[19.3,41.8],[26.1,41.8],[31.5,42.2],[38.3,43.3],[43.7,44.7],[50.5,47.2],[57.3,50.4],[64.1,54.1],[70.9,58.0],[79.7,62.3]];
const resilienceVolumeFit = [[0,53.0],[990,53.8],[3295,55.1],[5599,56.1],[7442,56.4],[9746,56.1],[12050,55.1],[14354,53.4],[16658,50.8],[18962,47.8],[21266,44.3],[23570,40.8],[25183,37.4]];
const resilienceDurationFit = [[0,52.5],[4.0,53.4],[10.9,55.1],[17.8,56.0],[24.7,56.6],[30.3,56.6],[35.8,56.0],[40.7,55.1],[45.5,53.4],[52.5,50.8],[59.4,48.2],[66.3,45.2],[73.3,41.3],[78.8,37.8]];
const insomniaVolumeFit = [[0,21.1],[1576,20.6],[3830,20.0],[6080,19.4],[8333,19.2],[10586,19.2],[12385,19.4],[14190,19.8],[16440,20.7],[18700,21.6],[20950,22.8],[23200,23.9],[25110,24.9]];
const insomniaDurationFit = [[0,21.3],[5.8,20.6],[12.5,20.0],[19.3,19.5],[26.1,19.3],[32.9,19.3],[39.7,19.4],[46.4,19.7],[53.2,20.1],[60.0,20.7],[66.8,21.5],[73.6,22.3],[79.7,23.2]];

// ---- Axis labels, ranges and tick values ----
const yTitles = [
 ['Depression','(PHQ-9; gender adjusted)'],
 ['State anxiety','(STAI-Y/state; gender adjusted)'],
 ['Trait anxiety','(STAI-Y/trait; gender adjusted)'],
 ['Resilience','(CD-RISC; gender adjusted)'],
 ['Insomnia vulnerability','(FIRST; gender adjusted)']
];
const yRanges = [[0,27],[20,80],[20,80],[0,100],[9,36]];
const yTickValues = [[0,9,18,27],[20,30,40,50,60,70,80],[20,30,40,50,60,70,80],[0,20,40,60,80,100],[9,18,27,36]];
const xTitles = ['Total physical activity volume (METs/week)','Total physical activity duration (hours/week)'];
const xRanges = [[0,27000],[0,84]];
const xTickValues = [[0,5000,10000,15000,20000,25000],[0,20,40,60,80]];

const scatterData = [
 [depressionVolume, depressionDuration],[stateVolume, stateDuration],[traitVolume, traitDuration],
 [resilienceVolume, resilienceDuration],[insomniaVolume, insomniaDuration]
];
const fitData = [
 [depressionVolumeFit, depressionDurationFit],[stateVolumeFit, stateDurationFit],[traitVolumeFit, traitDurationFit],
 [resilienceVolumeFit, resilienceDurationFit],[insomniaVolumeFit, insomniaDurationFit]
];

// ---- Layout (page pixels) ----
const FONT = "'Liberation Serif', 'Times New Roman', serif";
const rowTop = [15,555,1095,1635,2176];
const rowBottom = [412,954,1494,2036,2574];
const yAxisWidth = [112,112,112,125,112];
const canvasLeft = [0,801];
const plotRight = [695,1513];
const PAD_TOP = 20, PAD_RIGHT = 5, X_AXIS_H = 82;

function toPoints(cols){
  const pts = [];
  cols.forEach(c => { for (let i = 1; i < c.length; i++) pts.push({x: c[0], y: c[i]}); });
  return pts;
}

for (let row = 0; row < 5; row++) {
  for (let col = 0; col < 2; col++) {
    const cv = document.createElement('canvas');
    const w = plotRight[col] - canvasLeft[col] + PAD_RIGHT;
    const h = rowBottom[row] - rowTop[row] + PAD_TOP + X_AXIS_H;
    cv.width = w; cv.height = h;
    cv.style.left = canvasLeft[col] + 'px';
    cv.style.top = (rowTop[row] - PAD_TOP) + 'px';
    cv.style.width = w + 'px'; cv.style.height = h + 'px';
    document.body.appendChild(cv);
    const yw = yAxisWidth[row];
    const [ymin, ymax] = yRanges[row];
    const [xmin, xmax] = xRanges[col];
    new Chart(cv, {
      type: 'scatter',
      data: {
        datasets: [
          {type:'line', data: fitData[row][col].map(p => ({x:p[0], y:p[1]})), borderColor:'#000', borderWidth:3.4,
           borderDash:[10,6], pointRadius:0, fill:false, cubicInterpolationMode:'monotone', clip:false},
          {type:'scatter', data: toPoints(scatterData[row][col]), pointStyle:'circle', pointRadius:6.4, borderWidth:1.6,
           borderColor:'rgba(0,0,0,0.47)', backgroundColor:'rgba(0,0,0,0)', clip:false}
        ]
      },
      options: {
        responsive:false, animation:false, devicePixelRatio:1,
        layout:{padding:{top:PAD_TOP, right:PAD_RIGHT, left:0, bottom:0}},
        plugins:{legend:{display:false}, tooltip:{enabled:false}},
        events:[],
        scales:{
          x:{type:'linear', position:'bottom', min:xmin, max:xmax,
             afterBuildTicks: s => { s.ticks = xTickValues[col].map(v => ({value:v})); },
             ticks:{color:'#000', font:{family:FONT, size:25}, padding:27, maxRotation:0, autoSkip:false,
                    callback: v => String(v)},
             grid:{display:true, drawOnChartArea:false, drawTicks:true, tickLength:-7, color:'#000', lineWidth:1.5},
             border:{display:true, color:'#000', width:2},
             title:{display:true, text:xTitles[col], color:'#000', font:{family:FONT, size:25, lineHeight:1.2}, padding:{top:0,bottom:0}},
             afterFit: s => { s.height = X_AXIS_H; }
          },
          y:{type:'linear', position:'left', min:ymin, max:ymax,
             afterBuildTicks: s => { s.ticks = yTickValues[row].map(v => ({value:v})); },
             ticks:{color:'#000', font:{family:FONT, size:25}, padding:22, callback: v => String(v)},
             grid:{display:false, drawTicks:false},
             border:{display:true, color:'#000', width:2},
             title:{display:true, text:yTitles[row], color:'#000', font:{family:FONT, size:25, lineHeight:1.28}, padding:{top:1,bottom:0}},
             afterFit: s => { s.width = yw; }
          }
        }
      }
    });
  }
}
</script>
</body></html>
